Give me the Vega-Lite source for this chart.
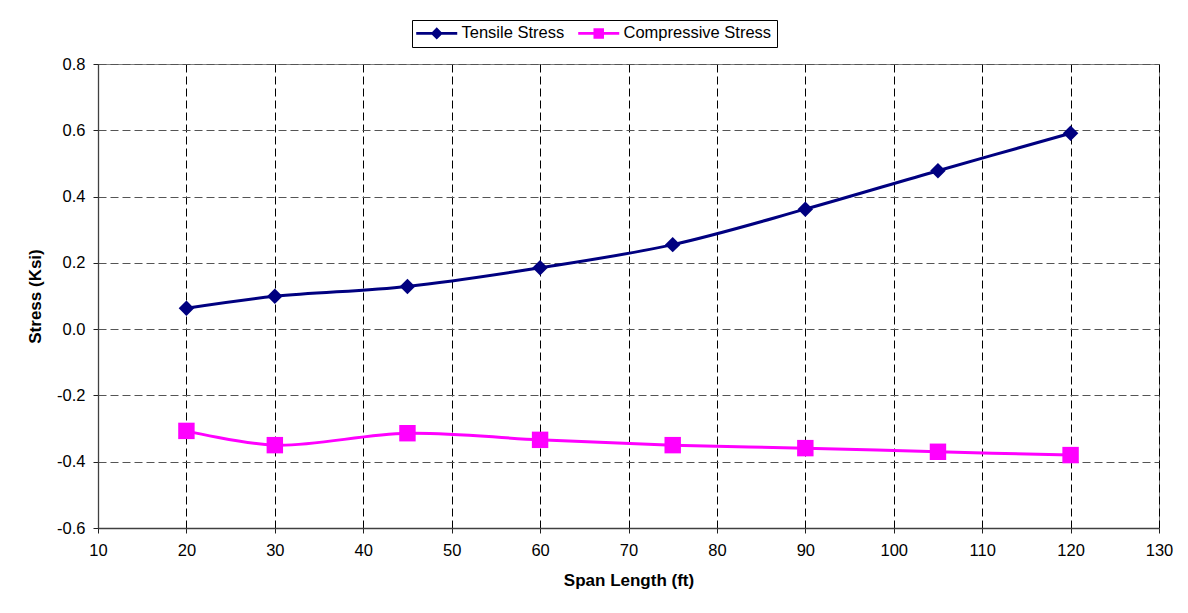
{
  "$schema": "https://vega.github.io/schema/vega-lite/v6.json",
  "width": 1061,
  "height": 464,
  "autosize": {"type": "none"},
  "padding": {"left": 98, "top": 64, "right": 29, "bottom": 85},
  "background": "white",
  "config": {
    "font": "Liberation Sans",
    "view": {"stroke": "#808080", "strokeWidth": 1},
    "axis": {
      "labelFont": "Liberation Sans",
      "labelFontSize": 16.5,
      "labelColor": "#000",
      "titleFont": "Liberation Sans",
      "titleFontSize": 17,
      "titleFontWeight": "bold",
      "titleColor": "#000",
      "domainColor": "#404040",
      "domainWidth": 1.3,
      "tickColor": "#202020",
      "tickSize": 5,
      "gridDash": [8, 4],
      "gridWidth": 1
    }
  },
  "data": {
    "values": [
      {"span": 20, "stress": 0.063, "series": "Tensile Stress"},
      {"span": 30, "stress": 0.099, "series": "Tensile Stress"},
      {"span": 45, "stress": 0.129, "series": "Tensile Stress"},
      {"span": 60, "stress": 0.185, "series": "Tensile Stress"},
      {"span": 75, "stress": 0.255, "series": "Tensile Stress"},
      {"span": 90, "stress": 0.362, "series": "Tensile Stress"},
      {"span": 105, "stress": 0.478, "series": "Tensile Stress"},
      {"span": 120, "stress": 0.591, "series": "Tensile Stress"},
      {"span": 20, "stress": -0.307, "series": "Compressive Stress"},
      {"span": 30, "stress": -0.35, "series": "Compressive Stress"},
      {"span": 45, "stress": -0.314, "series": "Compressive Stress"},
      {"span": 60, "stress": -0.334, "series": "Compressive Stress"},
      {"span": 75, "stress": -0.35, "series": "Compressive Stress"},
      {"span": 90, "stress": -0.359, "series": "Compressive Stress"},
      {"span": 105, "stress": -0.37, "series": "Compressive Stress"},
      {"span": 120, "stress": -0.38, "series": "Compressive Stress"}
    ]
  },
  "encoding": {
    "x": {
      "field": "span",
      "type": "quantitative",
      "scale": {"domain": [10, 130], "nice": false, "zero": false},
      "axis": {
        "title": "Span Length (ft)",
        "values": [10, 20, 30, 40, 50, 60, 70, 80, 90, 100, 110, 120, 130],
        "gridColor": "#000",
        "labelPadding": 9,
        "titlePadding": 14,
        "labelFlush": false
      }
    },
    "y": {
      "field": "stress",
      "type": "quantitative",
      "scale": {"domain": [-0.6, 0.8], "nice": false, "zero": false},
      "axis": {
        "title": "Stress (Ksi)",
        "values": [-0.6, -0.4, -0.2, 0, 0.2, 0.4, 0.6, 0.8],
        "format": ".1f",
        "labelExpr": "replace(datum.label, '\u2212', '-')",
        "gridColor": "#555",
        "labelPadding": 8,
        "titlePadding": 12,
        "labelFlush": false
      }
    },
    "color": {
      "field": "series",
      "type": "nominal",
      "scale": {"domain": ["Tensile Stress", "Compressive Stress"], "range": ["#000080", "#FF00FF"]},
      "legend": {
        "title": null,
        "orient": "none",
        "legendX": 314,
        "legendY": -44,
        "direction": "horizontal",
        "columns": 2,
        "strokeColor": "#000",
        "padding": 5,
        "labelFont": "Liberation Sans",
        "labelFontSize": 16.5,
        "labelColor": "#000",
        "labelOffset": 28,
        "columnPadding": 13,
        "symbolSize": 196,
        "symbolStrokeWidth": 0,
        "symbolOpacity": 1
      }
    }
  },
  "layer": [
    {
      "mark": {"type": "line", "interpolate": "catmull-rom", "strokeWidth": 3, "clip": true}
    },
    {
      "transform": [{"filter": "datum.series === 'Tensile Stress'"}],
      "mark": {"type": "point", "shape": "diamond", "filled": true, "opacity": 1, "size": 240}
    },
    {
      "transform": [{"filter": "datum.series === 'Compressive Stress'"}],
      "mark": {"type": "point", "shape": "square", "filled": true, "opacity": 1, "size": 270}
    },
    {
      "mark": {"type": "point", "filled": true, "opacity": 0},
      "encoding": {
        "shape": {
          "field": "series",
          "type": "nominal",
          "scale": {"domain": ["Tensile Stress", "Compressive Stress"], "range": ["M-1.29,-0.21H4.57V0.21H-1.29ZM1.64,-0.86L2.5,0L1.64,0.86L0.78,0Z", "M-1.29,-0.21H4.57V0.21H-1.29ZM0.89,-0.75H2.39V0.75H0.89Z"]},
          "legend": null
        }
      }
    }
  ]
}
